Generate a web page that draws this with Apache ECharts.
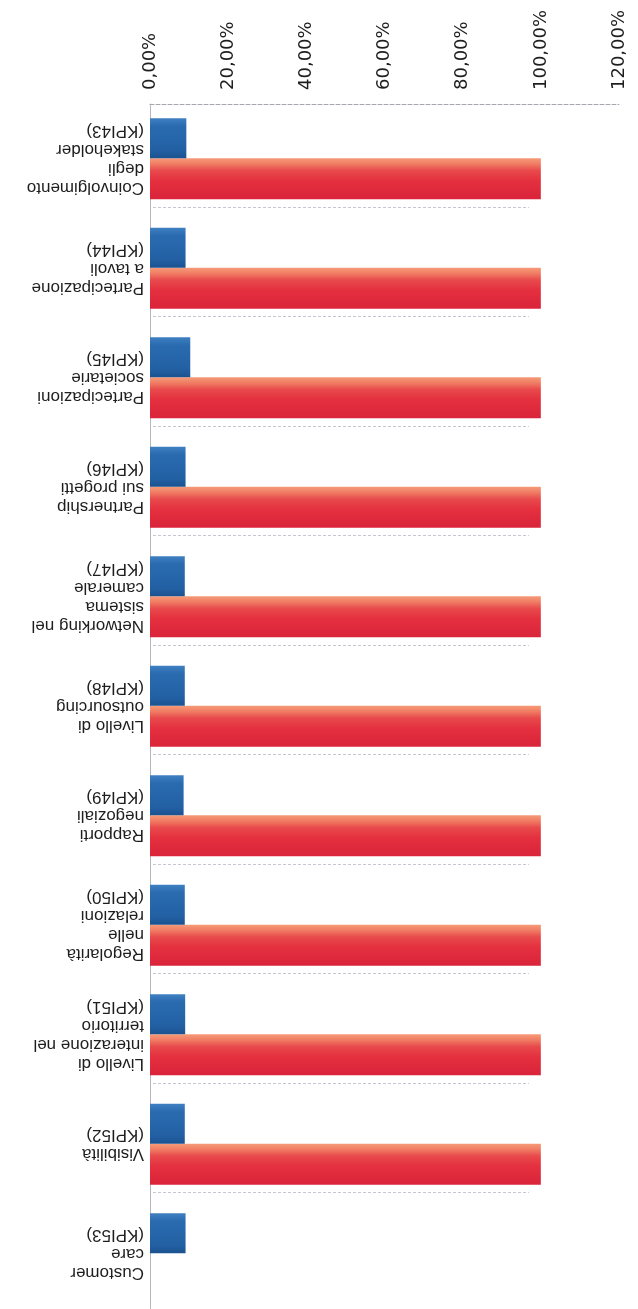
<!DOCTYPE html>
<html>
<head>
<meta charset="utf-8">
<title>KPI</title>
<script src="https://cdn.jsdelivr.net/npm/echarts@6/dist/echarts.min.js"></script>
<style>
  html, body { margin: 0; padding: 0; background: #ffffff; }
  #chart { width: 638px; height: 1309px; }
</style>
</head>
<body>
<div id="chart"></div>
<script>
// Categories (KPI names), top to bottom
const categories = [
  'Coinvolgimento\ndegli\nstakeholder\n(KPI43)',
  'Partecipazione\na tavoli\n(KPI44)',
  'Partecipazioni\nsocietarie\n(KPI45)',
  'Partnership\nsui progetti\n(KPI46)',
  'Networking nel\nsistema\ncamerale\n(KPI47)',
  'Livello di\noutsourcing\n(KPI48)',
  'Rapporti\nnegoziali\n(KPI49)',
  'Regolarità\nnelle\nrelazioni\n(KPI50)',
  'Livello di\ninterazione nel\nterritorio\n(KPI51)',
  'Visibilità\n(KPI52)',
  'Customer\ncare\n(KPI53)'
];

// Series values (percent)
const bluValues = [9.3, 9.1, 10.3, 9.1, 8.9, 8.9, 8.6, 8.9, 9.0, 8.9, 9.1];
const rossoValues = [100, 100, 100, 100, 100, 100, 100, 100, 100, 100, null];

// Value-axis ticks
const tickValues = [0, 20, 40, 60, 80, 100, 120];
const tickLabels = ['0,00%', '20,00%', '40,00%', '60,00%', '80,00%', '100,00%', '120,00%'];

const chart = echarts.init(document.getElementById('chart'), null, { renderer: 'canvas' });

const option = {
  backgroundColor: '#ffffff',
  animation: false,
  grid: { left: 150, right: 19, top: 104, bottom: 0.5, containLabel: false },
  xAxis: {
    type: 'value',
    position: 'top',
    min: tickValues[0],
    max: tickValues[tickValues.length - 1],
    interval: tickValues[1] - tickValues[0],
    axisLine: { show: true, lineStyle: { color: '#a4a8ae', width: 1, type: [4, 2] } },
    axisTick: { show: false },
    splitLine: { show: false },
    axisLabel: {
      rotate: -90,
      margin: 14,
      fontFamily: 'DejaVu Sans',
      fontSize: 18,
      color: '#1e1e1e',
      formatter: v => tickLabels[tickValues.indexOf(v)]
    }
  },
  yAxis: {
    type: 'category',
    inverse: true,
    data: categories,
    axisLine: { show: true, lineStyle: { color: '#b4b8bc', width: 1 } },
    axisTick: { show: false },
    splitLine: { show: false },
    axisLabel: {
      interval: 0,
      rotate: 180,
      margin: 6,
      fontFamily: 'Liberation Sans',
      fontSize: 17,
      lineHeight: 19,
      color: '#1e1e1e'
    }
  },
  series: [
    {
      name: 'blu',
      type: 'bar',
      data: bluValues,
      barWidth: 40,
      barGap: '0%',
      itemStyle: {
        color: new echarts.graphic.LinearGradient(0, 0, 0, 1, [
          { offset: 0, color: '#3f80c2' },
          { offset: 0.2, color: '#2a6bb0' },
          { offset: 0.8, color: '#2260a3' },
          { offset: 1, color: '#1b5290' }
        ])
      }
    },
    {
      name: 'rosso',
      type: 'bar',
      data: rossoValues,
      barWidth: 41,
      barGap: '0%',
      itemStyle: {
        color: new echarts.graphic.LinearGradient(0, 0, 0, 1, [
          { offset: 0, color: '#f59b78' },
          { offset: 0.14, color: '#f07c63' },
          { offset: 0.3, color: '#e84a4c' },
          { offset: 0.55, color: '#e4303f' },
          { offset: 1, color: '#d9243a' }
        ])
      },
      z: 1
    },
    {
      // faint trace beneath each red bar
      name: 'traccia',
      type: 'custom',
      data: rossoValues.map((v, i) => [v, i]),
      renderItem: function (params, api) {
        const v = api.value(0);
        if (v == null || isNaN(v)) return null;
        const cat = api.value(1);
        const start = api.coord([0, cat]);
        const end = api.coord([v, cat]);
        const band = api.size([0, 1])[1];
        const y = Math.round(start[1] + band * 0.44) + 0.5;
        return {
          type: 'line',
          shape: { x1: start[0] + 3, y1: y, x2: end[0] - 12, y2: y },
          style: { stroke: '#c3c8d0', lineWidth: 1.2, lineDash: [3, 2] },
          silent: true
        };
      },
      z: 0
    }
  ]
};

chart.setOption(option);
</script>
</body>
</html>
